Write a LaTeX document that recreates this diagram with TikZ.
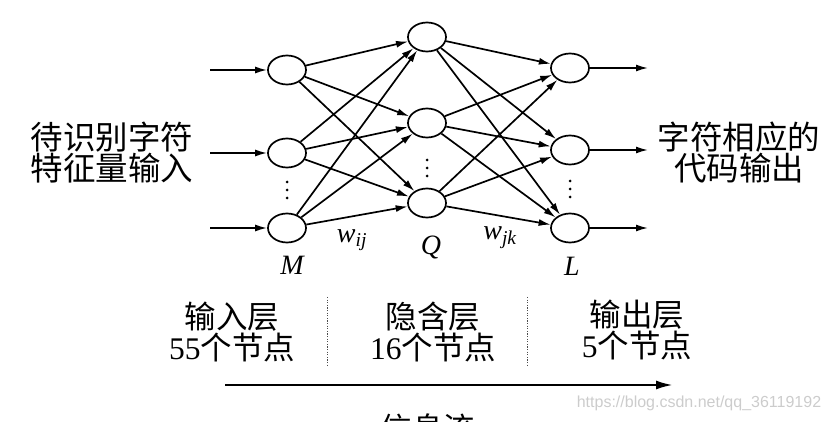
\documentclass[tikz,border=0pt]{standalone}
\usepackage{fontspec}
\setmainfont{Liberation Serif}
\setsansfont{Liberation Sans}
\newfontfamily\cjk{Noto Sans CJK SC}
\usetikzlibrary{
arrows.meta,
positioning,
shapes.geometric
}

\begin{document}
\begin{tikzpicture}[
x=1pt,y=-1pt,
neuron/.style={
draw,
ellipse,
line width=1.7pt,
minimum width=38pt,
minimum height=29pt,
inner sep=0pt
},
arrow/.style={-{Latex[length=12pt,width=7pt]},line width=1.7pt},
flow/.style={-{Latex[length=17pt,width=9pt]},line width=2.4pt},
sep/.style={line width=1pt,dash pattern=on 1.3pt off 1.3pt,black!70},
cjktext/.style={font=\cjk\fontsize{32.5}{31}\selectfont,align=center,inner sep=0pt},
layertext/.style={font=\cjk\fontsize{31.5}{31}\selectfont,align=center,inner sep=0pt},
lbl/.style={font=\fontsize{28}{30}\selectfont\itshape,inner sep=0pt}
]

\useasboundingbox (0,0) rectangle (831,422);
\clip (0,0) rectangle (831,422);

% input layer
\node[neuron] (m1) at (287,70) {};
\node[neuron] (m2) at (287,153) {};
\node[neuron] (m3) at (287,228) {};
\fill (287,182) circle (1.5pt) (287,190) circle (1.5pt) (287,198) circle (1.5pt);

% hidden layer
\node[neuron] (q1) at (427,37) {};
\node[neuron] (q2) at (427,123) {};
\node[neuron] (q3) at (427,203) {};
\fill (427,160) circle (1.5pt) (427,168) circle (1.5pt) (427,176) circle (1.5pt);

% output layer
\node[neuron] (l1) at (570,68) {};
\node[neuron] (l2) at (570,150) {};
\node[neuron] (l3) at (570,228) {};
\fill (570,181) circle (1.5pt) (570,189) circle (1.5pt) (570,197) circle (1.5pt);

\coordinate (in1) at (210,70);
\coordinate (in2) at (210,153);
\coordinate (in3) at (210,228);
\coordinate (out1) at (648,68);
\coordinate (out2) at (648,150);
\coordinate (out3) at (648,228);

\draw[arrow] (in1) -- (m1);
\draw[arrow] (in2) -- (m2);
\draw[arrow] (in3) -- (m3);

\draw[arrow] (m1) -- (q1);
\draw[arrow] (m1) -- (q2);
\draw[arrow] (m1) -- (q3);
\draw[arrow] (m2) -- (q1);
\draw[arrow] (m2) -- (q2);
\draw[arrow] (m2) -- (q3);
\draw[arrow] (m3) -- (q1);
\draw[arrow] (m3) -- (q2);
\draw[arrow] (m3) -- (q3);

\draw[arrow] (q1) -- (l1);
\draw[arrow] (q1) -- (l2);
\draw[arrow] (q1) -- (l3);
\draw[arrow] (q2) -- (l1);
\draw[arrow] (q2) -- (l2);
\draw[arrow] (q2) -- (l3);
\draw[arrow] (q3) -- (l1);
\draw[arrow] (q3) -- (l2);
\draw[arrow] (q3) -- (l3);

\draw[arrow] (l1) -- (out1);
\draw[arrow] (l2) -- (out2);
\draw[arrow] (l3) -- (out3);

% labels
\node[lbl] (mlab) at (292,265) {M};
\node[lbl] (wij) at (352,240) {w\textsubscript{ij}};
\node[lbl] (qlab) at (431,248) {Q};
\node[lbl] (wjk) at (500,238) {w\textsubscript{jk}};
\node[lbl] (llab) at (572,266) {L};

\node[cjktext] (src) at (112,153) {待识别字符\\特征量输入};
\node[cjktext] (dst) at (739,153) {字符相应的\\代码输出};

% layers
\node[layertext] (inlayer) at (232,332) {输入层\\{\rmfamily 55}个节点};
\node[layertext] (hidlayer) at (433,332) {隐含层\\{\rmfamily 16}个节点};
\node[layertext] (outlayer) at (637,330) {输出层\\{\rmfamily 5}个节点};

\coordinate (d1t) at (327,297);
\coordinate (d1b) at (327,366);
\coordinate (d2t) at (527,297);
\coordinate (d2b) at (527,366);
\draw[sep] (d1t) -- (d1b);
\draw[sep] (d2t) -- (d2b);

\coordinate (fs) at (225,385);
\coordinate (fe) at (673,385);
\draw[flow] (fs) -- (fe);
\node[layertext] (flowlab) at (428,428) {信息流};

\node[font=\sffamily\fontsize{16}{16}\selectfont,text=black!20] (mark) at (699,403) {https://blog.csdn.net/qq\_36119192};

\end{tikzpicture}
\end{document}
